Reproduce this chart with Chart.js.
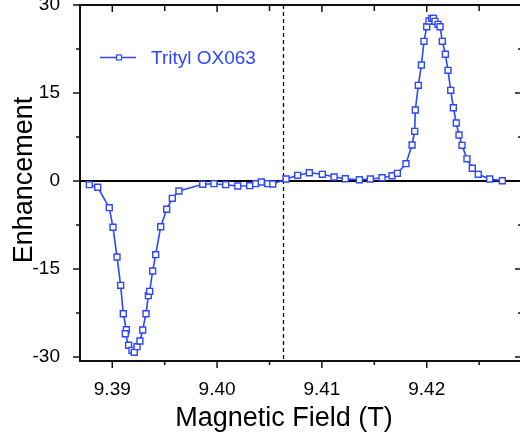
<!DOCTYPE html>
<html>
<head>
<meta charset="utf-8">
<script src="https://cdn.jsdelivr.net/npm/chart.js@4.4.1/dist/chart.umd.min.js"></script>
<style>
  html, body { margin: 0; padding: 0; background: #fff; overflow: hidden; }
  #box { width: 522px; height: 437px; overflow: hidden; }
</style>
</head>
<body>
<div id="box"><canvas id="chart" width="522" height="437"></canvas></div>
<script>
// values
const field = [
  9.38781, 9.38861, 9.38971, 9.39007, 9.39045, 9.39080, 9.39105, 9.39134, 9.39124, 9.39156,
  9.39188, 9.39210, 9.39236, 9.39264, 9.39290, 9.39322, 9.39344, 9.39357, 9.39385, 9.39414,
  9.39462, 9.39519, 9.39573, 9.39636, 9.39863, 9.39970, 9.40082, 9.40197, 9.40311, 9.40368,
  9.40422, 9.40483, 9.40531, 9.40658, 9.40769, 9.40880, 9.41004, 9.41116, 9.41223, 9.41357,
  9.41462, 9.41574, 9.41669, 9.41720, 9.41802, 9.41860, 9.41885, 9.41891, 9.41920, 9.41949,
  9.41974, 9.42000, 9.42022, 9.42048, 9.42063, 9.42079, 9.42108, 9.42127, 9.42149, 9.42178,
  9.42203, 9.42229, 9.42254, 9.42282, 9.42308, 9.42337, 9.42384, 9.42435, 9.42492, 9.42601,
  9.42721
];
const enhancement = [
  -0.63, -1.07, -4.55, -7.89, -12.95, -17.78, -22.62, -25.35, -26.03, -28.0,
  -28.86, -29.2, -28.24, -27.27, -25.4, -22.62, -19.55, -18.8, -15.34, -12.56,
  -7.79, -4.82, -2.95, -1.70, -0.56, -0.46, -0.63, -0.85, -0.80, -0.46,
  -0.17, -0.46, -0.51, 0.34, 0.97, 1.41, 1.14, 0.68, 0.39, 0.22,
  0.34, 0.56, 0.90, 1.31, 2.95, 6.14, 8.47, 12.10, 16.31, 19.77,
  23.81, 26.3, 27.27, 27.73, 27.73, 27.22, 26.71, 26.3, 23.81, 21.6,
  18.87, 15.46, 12.49, 9.89, 7.84, 6.08, 3.78, 2.18, 1.14, 0.34,
  0.05
];
const xTicks = [9.39, 9.40, 9.41, 9.42];
const xMinorTicks = [9.395, 9.405, 9.415, 9.425];
const yTicks = [-30, -15, 0, 15, 30];
const yMinorTicks = [-22.5, -7.5, 7.5, 22.5];
const seriesName = "Trityl OX063";
const markerField = 9.40626;
const xTitle = "Magnetic Field (T)";
const yTitle = "Enhancement";

const blue = "rgb(45,70,255)";
const fontFamily = "'Liberation Sans', Arial, Helvetica, sans-serif";

const points = field.map((f, i) => ({ x: f, y: enhancement[i] }));

const framePlugin = {
  id: "frame",
  beforeDatasetsDraw(chart) {
    const { ctx, chartArea: a, scales: { x, y } } = chart;
    ctx.save();
    ctx.strokeStyle = "#000";
    // zero line
    ctx.lineWidth = 2;
    const y0 = y.getPixelForValue(0);
    ctx.beginPath();
    ctx.moveTo(a.left, y0);
    ctx.lineTo(a.right, y0);
    ctx.stroke();
    // dashed marker line
    const xm = Math.round(x.getPixelForValue(markerField)) + 0.5;
    ctx.lineWidth = 1.3;
    ctx.setLineDash([4, 3]);
    ctx.beginPath();
    ctx.moveTo(xm, a.top);
    ctx.lineTo(xm, a.bottom);
    ctx.stroke();
    ctx.restore();
  },
  afterDraw(chart) {
    const { ctx, chartArea: a, scales: { x, y } } = chart;
    ctx.save();
    ctx.strokeStyle = "#111";
    ctx.lineWidth = 2;
    ctx.strokeRect(a.left, a.top, a.right - a.left, a.bottom - a.top);

    ctx.lineWidth = 1.5;
    const tick = (x1, y1, x2, y2) => {
      ctx.beginPath();
      ctx.moveTo(x1, y1);
      ctx.lineTo(x2, y2);
      ctx.stroke();
    };
    yTicks.forEach(v => {
      const p = y.getPixelForValue(v);
      tick(a.left - 7, p, a.left, p);
      tick(a.right - 7, p, a.right, p);
    });
    yMinorTicks.forEach(v => {
      const p = y.getPixelForValue(v);
      tick(a.left - 4, p, a.left, p);
      tick(a.right - 4, p, a.right, p);
    });
    xTicks.forEach(v => {
      const p = x.getPixelForValue(v);
      tick(p, a.bottom, p, a.bottom + 7);
      tick(p, a.top, p, a.top + 7);
    });
    xMinorTicks.forEach(v => {
      const p = x.getPixelForValue(v);
      tick(p, a.bottom, p, a.bottom + 4);
      tick(p, a.top, p, a.top + 6);
    });

    // legend
    ctx.strokeStyle = blue;
    ctx.lineWidth = 1.5;
    tick(100, 57.5, 136, 57.5);
    ctx.fillStyle = "#fff";
    ctx.lineWidth = 1.2;
    ctx.fillRect(116.5, 55, 5, 5);
    ctx.strokeRect(116.5, 55, 5, 5);
    ctx.fillStyle = blue;
    ctx.font = "19px " + fontFamily;
    ctx.textAlign = "left";
    ctx.textBaseline = "alphabetic";
    ctx.fillText(seriesName, 151, 63.5);

    // axis titles
    ctx.fillStyle = "#000";
    ctx.font = "27px " + fontFamily;
    ctx.textAlign = "center";
    ctx.fillText(xTitle, 284, 426);
    ctx.translate(32, 180);
    ctx.rotate(-Math.PI / 2);
    ctx.fillText(yTitle, 0, 0);
    ctx.restore();
  }
};

new Chart(document.getElementById("chart"), {
  type: "line",
  data: {
    datasets: [{
      label: seriesName,
      data: points,
      borderColor: blue,
      borderWidth: 1.6,
      pointStyle: "rect",
      pointRadius: 4.2,
      pointBorderWidth: 1.4,
      pointBorderColor: blue,
      pointBackgroundColor: "#fff",
      tension: 0,
      fill: false
    }]
  },
  options: {
    responsive: false,
    animation: false,
    devicePixelRatio: 1,
    layout: { autoPadding: false, padding: { top: 5, left: 0, right: 0, bottom: 0 } },
    plugins: { legend: { display: false }, tooltip: { enabled: false } },
    scales: {
      x: {
        type: "linear",
        min: 9.38692,
        max: 9.42909,
        afterBuildTicks: s => { s.ticks = xTicks.map(v => ({ value: v })); },
        afterFit: s => { s.height = 76; s.paddingLeft = 0; s.paddingRight = 0; },
        grid: { display: false },
        border: { display: false },
        ticks: {
          callback: v => v.toFixed(2),
          color: "#000",
          font: { family: fontFamily, size: 19 },
          padding: 9,
          maxRotation: 0,
          autoSkip: false
        }
      },
      y: {
        min: -30.68,
        max: 30,
        afterBuildTicks: s => { s.ticks = yTicks.map(v => ({ value: v })); },
        afterFit: s => { s.width = 80; s.paddingTop = 0; s.paddingBottom = 0; },
        grid: { display: false },
        border: { display: false },
        ticks: {
          callback: v => String(v),
          color: "#000",
          font: { family: fontFamily, size: 19 },
          padding: 12
        }
      }
    }
  },
  plugins: [framePlugin]
});
</script>
</body>
</html>
